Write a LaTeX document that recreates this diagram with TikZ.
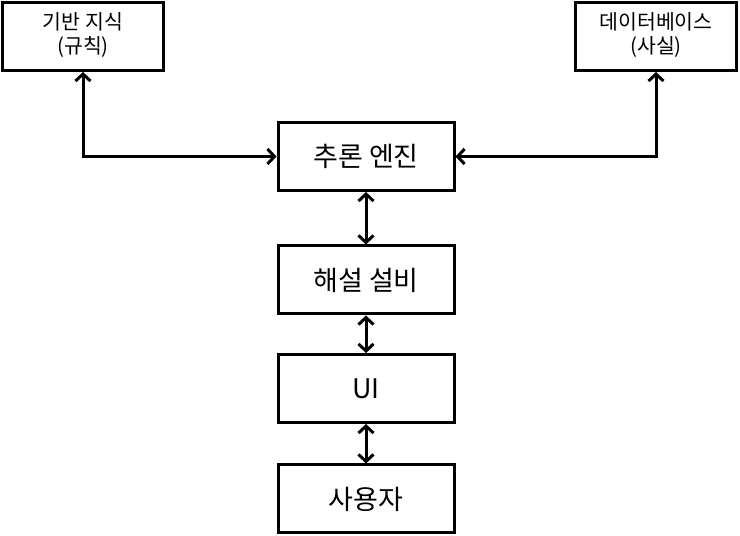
\documentclass[tikz,border=0pt]{standalone}
\usepackage{fontspec}
\setmainfont{Noto Sans CJK KR}
\usetikzlibrary{arrows.meta}
\newcommand{\sidetext}[2]{\raisebox{-3pt}{\begin{tabular}{@{}c@{}}#1\\[-1pt]#2\end{tabular}}}
\begin{document}
\begin{tikzpicture}[x=1pt,y=1pt,
  box/.style={draw, line width=3pt, rectangle, inner sep=0pt, align=center},
  sidebox/.style={box, minimum width=161pt, minimum height=68pt, font=\fontsize{20.5}{25}\selectfont},
  mainbox/.style={box, minimum width=176pt, minimum height=68pt, font=\fontsize{27}{30}\selectfont},
  link/.style={line width=3pt, {Straight Barb[length=7pt,width=15pt]}-{Straight Barb[length=7pt,width=15pt]}}
]
\useasboundingbox (0,0) rectangle (740,536);
\node[sidebox] (kb) at (83,499.5) {\sidetext{기반 지식}{(규칙)}};
\node[sidebox] (db) at (656,499.5) {\sidetext{데이터베이스}{(사실)}};
\node[mainbox] (eng) at (366,379.5) {추론 엔진};
\node[mainbox] (exp) at (366,256) {해설 설비};
\node[mainbox] (ui) at (366,147.5) {UI};
\node[mainbox] (user) at (366,37) {사용자};
\draw[link] (kb.south) |- (eng.west);
\draw[link] (db.south) |- (eng.east);
\draw[link] (eng.south) -- (exp.north);
\draw[link] (exp.south) -- (ui.north);
\draw[link] (ui.south) -- (user.north);
\end{tikzpicture}
\end{document}
